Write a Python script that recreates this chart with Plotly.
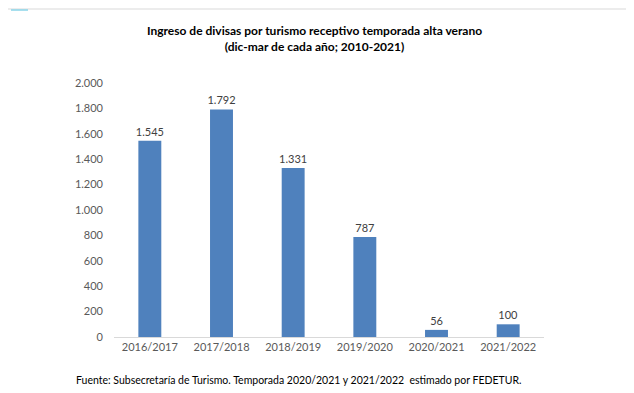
import plotly.graph_objects as go

categories = ["2016/2017", "2017/2018", "2018/2019", "2019/2020", "2020/2021", "2021/2022"]
values = [1545, 1792, 1331, 787, 56, 100]
y_ticks = [0, 200, 400, 600, 800, 1000, 1200, 1400, 1600, 1800, 2000]

# page has an 8px body margin; figure origin sits at (8, 8) of the window
OFF = 8
W, H = 626, 385
ml, mr, mt, mb = 114 - OFF, 90, 83 - OFF, 56

FONT = "Lato, Open Sans, sans-serif"

fig = go.Figure(go.Bar(
    x=categories, y=values,
    marker=dict(color="#4f81bd", line=dict(width=0)),
    text=values, texttemplate="%{y:,.0f}", textposition="outside",
    textfont=dict(family=FONT, size=11, color="#404040"),
    constraintext="none",
    cliponaxis=False,
))

def px_x(x):
    return (x - OFF - ml) / (W - ml - mr)

def px_y(y):
    return (H - mb - (y - OFF)) / (H - mt - mb)

fig.add_shape(type="line", xref="paper", yref="paper",
              x0=px_x(8), x1=px_x(634), y0=px_y(9), y1=px_y(9),
              line=dict(color="#ececec", width=2))
fig.add_shape(type="line", xref="paper", yref="paper",
              x0=px_x(11), x1=px_x(28), y0=px_y(10), y1=px_y(10),
              line=dict(color="#8ad4e8", width=1.5))

fig.add_annotation(text="<b>Ingreso de divisas por turismo receptivo temporada alta verano<br>(dic-mar de cada año; 2010-2021)</b>",
                   xref="paper", yref="paper", x=px_x(314), y=px_y(38), showarrow=False,
                   font=dict(family=FONT, size=12, color="#000000"),
                   xanchor="center", yanchor="middle", align="center")
fig.add_annotation(text="Fuente: Subsecretaría de Turismo. Temporada 2020/2021 y 2021/2022  estimado por FEDETUR.",
                   xref="paper", yref="paper", x=px_x(74), y=px_y(380), showarrow=False,
                   font=dict(family=FONT, size=10.5, color="#000000"),
                   xanchor="left", yanchor="middle")

fig.update_layout(
    width=W, height=H,
    margin=dict(l=ml, r=mr, t=mt, b=mb),
    paper_bgcolor="white", plot_bgcolor="white",
    separators=",.",
    bargap=0.68,
    showlegend=False,
    xaxis=dict(showline=True, linecolor="#d9d9d9", linewidth=1, ticks="",
               tickfont=dict(family=FONT, size=11, color="#595959")),
    yaxis=dict(range=[0, 2000], tickvals=y_ticks, tickformat=",.0f", showgrid=False,
               zeroline=False, showline=False, ticks="", ticklabelstandoff=10,
               tickfont=dict(family=FONT, size=11, color="#595959")),
)

fig.write_html("out.html")
